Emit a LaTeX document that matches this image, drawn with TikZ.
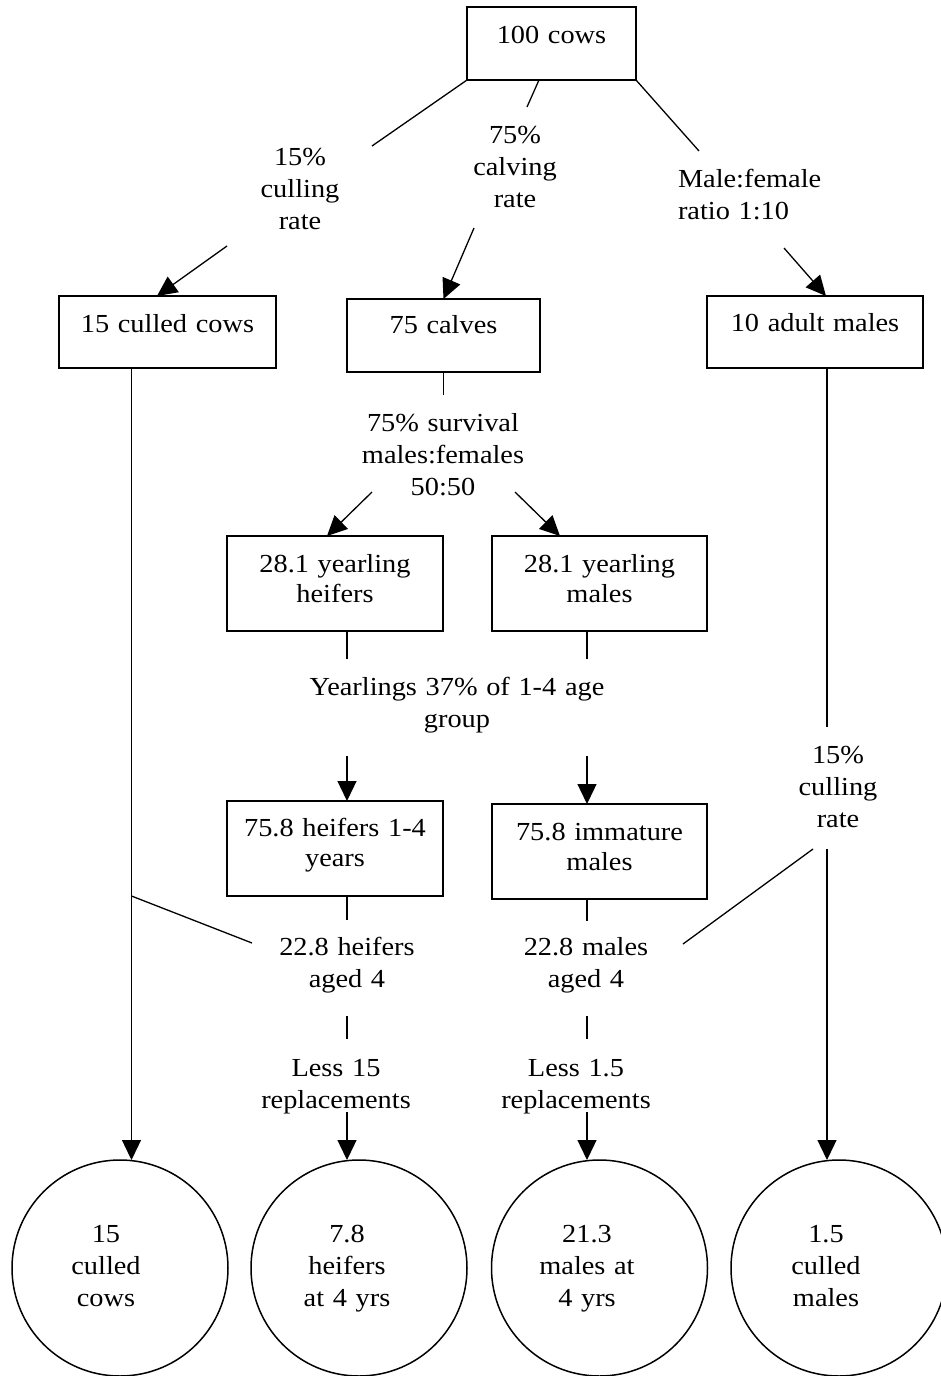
\documentclass[tikz,border=0pt]{standalone}
\usepackage{fontspec}
\setmainfont{Liberation Serif}[FakeStretch=1.09]
\usetikzlibrary{arrows.meta,calc}
\begin{document}
\begin{tikzpicture}[x=1pt,y=-1pt,
  every node/.style={inner sep=0pt, outer sep=0pt},
  txt/.style={font=\fontsize{26}{32}\selectfont, align=center, text width=320pt},
  boxtxt/.style={draw, line width=1.5pt, font=\fontsize{26}{30.5}\selectfont, align=center},
  circ/.style={draw, circle, line width=1.5pt, minimum size=216pt},
  con/.style={line width=1.3pt},
  arr/.style={con, -{Triangle[length=20pt,width=19pt]}}
]
\useasboundingbox (0,0) rectangle (941,1376);

% boxes
\node[boxtxt, text width=169pt, text height=36pt, text depth=37pt, anchor=base] (cows) at (551.5,43) {100 cows};
\node[boxtxt, text width=217pt, text height=36pt, text depth=36pt, anchor=base] (culled) at (167.5,332) {15 culled cows};
\node[boxtxt, text width=193pt, text height=34pt, text depth=39pt, anchor=base] (calves) at (443.5,333) {75 calves};
\node[boxtxt, text width=216pt, text height=35pt, text depth=37pt, anchor=base] (adult) at (815,331) {10 adult males};
\node[boxtxt, text width=216pt, text height=36pt, text depth=59pt, anchor=base] (yhf) at (335,572) {28.1 yearling\\heifers};
\node[boxtxt, text width=215pt, text height=36pt, text depth=59pt, anchor=base] (ym) at (599.5,572) {28.1 yearling\\males};
\node[boxtxt, text width=216pt, text height=35pt, text depth=60pt, anchor=base] (h14) at (335,836) {75.8 heifers 1-4\\years};
\node[boxtxt, text width=215pt, text height=36pt, text depth=59pt, anchor=base] (imm) at (599.5,840) {75.8 immature\\males};

% circles
\node[circ] (c1) at (120,1268) {};
\node[circ] (c2) at (359,1268) {};
\node[circ] (c3) at (599.5,1268) {};
\node[circ] (c4) at (839,1268) {};
\node[txt, anchor=base] (t1) at (106,1242) {15\\culled\\cows};
\node[txt, anchor=base] (t2) at (347,1242) {7.8\\heifers\\at 4 yrs};
\node[txt, anchor=base] (t3) at (587,1242) {21.3\\males at\\4 yrs};
\node[txt, anchor=base] (t4) at (826,1242) {1.5\\culled\\males};

% labels
\node[txt, anchor=base] (cull1) at (300,165) {15\%\\culling\\rate};
\node[txt, anchor=base] (calving) at (515,143) {75\%\\calving\\rate};
\node[txt, align=left, text width=200pt, anchor=base west] (ratio) at (678,187) {Male:female\\ratio 1:10};
\node[txt, anchor=base] (surv) at (443,431) {75\% survival\\males:females\\50:50};
\node[txt, anchor=base] (yearl) at (457,695) {Yearlings 37\% of 1-4 age\\group};
\node[txt, anchor=base] (cull2) at (838,763) {15\%\\culling\\rate};
\node[txt, anchor=base] (h22) at (347,955) {22.8 heifers\\aged 4};
\node[txt, anchor=base] (m22) at (586,955) {22.8 males\\aged 4};
\node[txt, anchor=base] (less1) at (336,1076) {Less 15\\replacements};
\node[txt, anchor=base] (less2) at (576,1076) {Less 1.5\\replacements};

% free ends
\coordinate (l1) at (372,146);
\coordinate (m1) at (527,107);
\coordinate (r1) at (699,151);
\coordinate (a1) at (227,246);
\coordinate (a2) at (474,228);
\coordinate (a3) at (784,248);
\coordinate (d1) at (131.5,896);
\coordinate (d1e) at (252,943);
\coordinate (v1) at (827,727);
\coordinate (v2) at (827,849);
\coordinate (d2) at (813,849);
\coordinate (d2e) at (683,944);
\coordinate (s0) at (443.5,395);
\coordinate (s1) at (372,492);
\coordinate (s2) at (515,492);
\coordinate (y1) at (347,659);
\coordinate (y2) at (587,659);
\coordinate (y3) at (347,756);
\coordinate (y4) at (587,756);
\coordinate (h1) at (347,920);
\coordinate (h2) at (587,921);
\coordinate (k1a) at (347,1016);
\coordinate (k1b) at (347,1039);
\coordinate (k2a) at (587,1016);
\coordinate (k2b) at (587,1039);
\coordinate (e1) at (347,1112);
\coordinate (e2) at (587,1112);

% connectors
\draw[con] (cows.south west) -- (l1);
\draw[con] ([xshift=-12.5pt]cows.south) -- (m1);
\draw[con] (cows.south east) -- (r1);
\draw[arr] (a1) -- ([xshift=-10.5pt]culled.north);
\draw[arr] (a2) -- (calves.north);
\draw[arr] (a3) -- ([xshift=11pt]adult.north);
\draw[arr] ([xshift=-36pt]culled.south) -- ([xshift=11.5pt]c1.north);
\draw[con] (d1) -- (d1e);
\draw[con] ([xshift=12pt]adult.south) -- (v1);
\draw[arr] (v2) -- ([xshift=-12pt]c4.north);
\draw[con] (d2) -- (d2e);
\draw[con] (calves.south) -- (s0);
\draw[arr] (s1) -- ([xshift=-8pt]yhf.north);
\draw[arr] (s2) -- ([xshift=-39.5pt]ym.north);
\draw[con] ([xshift=12pt]yhf.south) -- (y1);
\draw[con] ([xshift=-12.5pt]ym.south) -- (y2);
\draw[arr] (y3) -- ([xshift=12pt]h14.north);
\draw[arr] (y4) -- ([xshift=-12.5pt]imm.north);
\draw[con] ([xshift=12pt]h14.south) -- (h1);
\draw[con] ([xshift=-12.5pt]imm.south) -- (h2);
\draw[con] (k1a) -- (k1b);
\draw[con] (k2a) -- (k2b);
\draw[arr] (e1) -- ([xshift=-12pt]c2.north);
\draw[arr] (e2) -- ([xshift=-12.5pt]c3.north);
\end{tikzpicture}
\end{document}
